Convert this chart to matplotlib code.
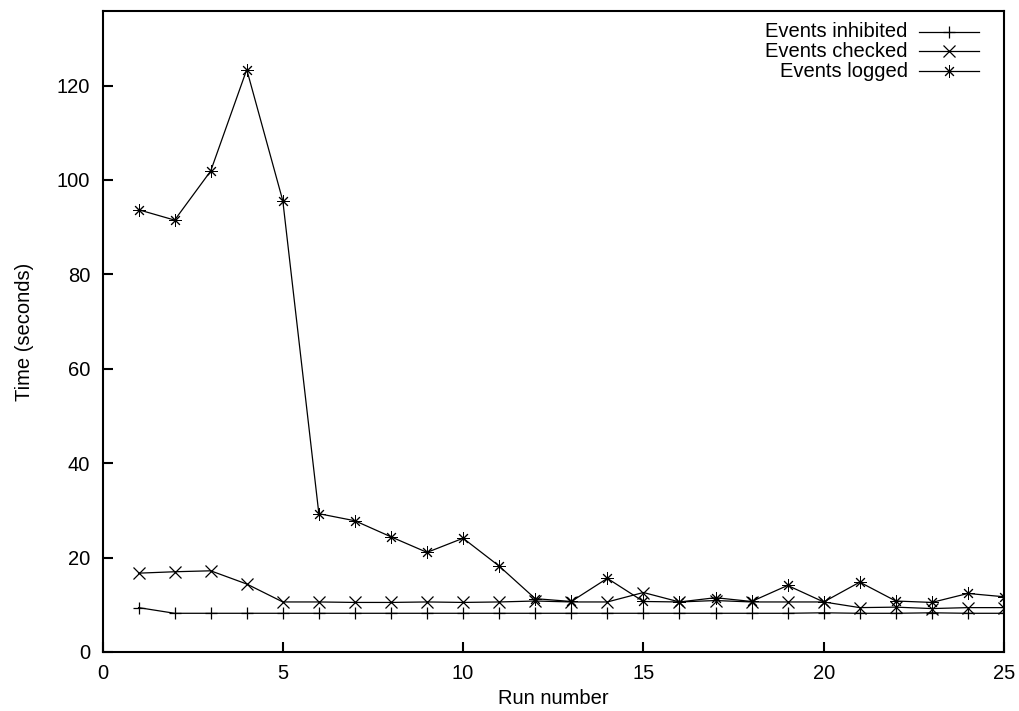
import matplotlib
matplotlib.use("Agg")
import matplotlib.pyplot as plt
from matplotlib.lines import Line2D

plt.rcParams["font.family"] = ["Liberation Sans", "DejaVu Sans"]

# ─── Data ─────────────────────────────────────────────────────────────

runs = list(range(1, 26))

inhibited = [9.4, 8.2, 8.2, 8.2, 8.2, 8.2, 8.2, 8.2, 8.2, 8.2,
             8.2, 8.2, 8.2, 8.2, 8.2, 8.2, 8.2, 8.2, 8.2, 8.3,
             8.2, 8.2, 8.3, 8.2, 8.2]

checked = [16.7, 17.0, 17.2, 14.4, 10.6, 10.6, 10.5, 10.5, 10.6, 10.5,
           10.6, 10.8, 10.6, 10.6, 12.6, 10.6, 10.9, 10.6, 10.6, 10.6,
           9.4, 9.5, 9.2, 9.4, 9.4]

logged = [93.7, 91.5, 101.9, 123.4, 95.6, 29.3, 27.8, 24.4, 21.1, 24.1,
          18.2, 11.3, 10.7, 15.6, 10.7, 10.6, 11.5, 10.7, 14.1, 10.6,
          14.8, 10.8, 10.5, 12.4, 11.7]

# label, values, marker, size, marker edge width
series = [
    ("Events inhibited", inhibited, "+", 9, 0.9),
    ("Events checked", checked, "x", 8, 0.9),
    ("Events logged", logged, (8, 2, 0), 9, 0.7),
]

x_ticks = [0, 5, 10, 15, 20, 25]
y_ticks = [0, 20, 40, 60, 80, 100, 120]

FS = 14.5

# ─── Figure ───────────────────────────────────────────────────────────

fig = plt.figure(figsize=(10.2, 7.11), dpi=100)
ax = fig.add_axes([0.1005, 0.083, 0.8838, 0.9015])

for label, vals, marker, ms, mew in series:
    ax.plot(runs, vals, color="black", linewidth=0.9, marker=marker,
            markersize=ms, markeredgewidth=mew, markerfacecolor="none",
            markeredgecolor="black")

ax.set_xlim(0, 25)
ax.set_ylim(0, 135.8)
ax.set_xticks(x_ticks)
ax.set_yticks(y_ticks)

for side in ax.spines.values():
    side.set_linewidth(1.5)
ax.tick_params(direction="in", length=7, width=1.5, labelsize=FS, pad=9,
               top=False, right=False)

ax.set_xlabel("Run number", fontsize=FS, labelpad=4)
ax.set_ylabel("Time (seconds)", fontsize=FS, labelpad=16)

# gnuplot-style key: right-aligned text, sample line to the right
for i, (label, vals, marker, ms, mew) in enumerate(series):
    y = 0.968 - i * 0.0308
    ax.text(0.893, y, label, transform=ax.transAxes, ha="right",
            va="center", fontsize=FS)
    ax.add_line(Line2D([0.906, 0.972], [y, y], transform=ax.transAxes,
                       color="black", linewidth=0.9))
    ax.add_line(Line2D([0.939], [y], transform=ax.transAxes, marker=marker,
                       markersize=ms, markeredgewidth=mew,
                       markerfacecolor="none", markeredgecolor="black"))

fig.savefig("out.png", dpi=100)
